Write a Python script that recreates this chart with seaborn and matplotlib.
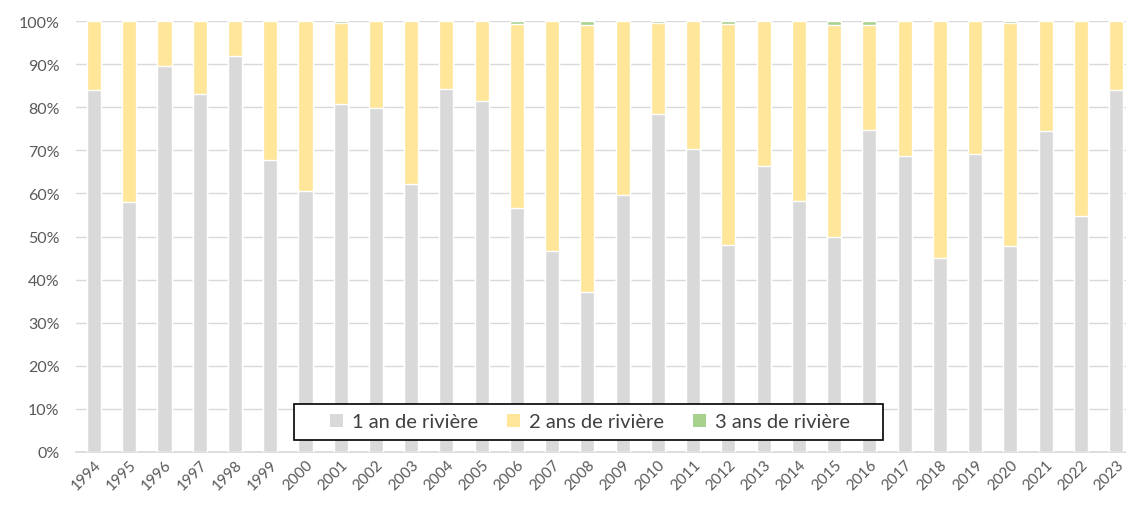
import numpy as np
import pandas as pd
import matplotlib
matplotlib.use("Agg")
import matplotlib.pyplot as plt
import seaborn as sns
from matplotlib.patches import Patch, Rectangle
from matplotlib.ticker import PercentFormatter

years = [str(y) for y in range(1994, 2024)]

# share of fish by years spent in river (%)
one_year = [83.9, 58.0, 89.5, 83.0, 91.9, 67.8, 60.6, 80.8, 79.8, 62.2,
            84.3, 81.4, 56.7, 46.7, 37.2, 59.7, 78.5, 70.2, 48.1, 66.3,
            58.3, 50.0, 74.8, 68.6, 45.1, 69.1, 47.7, 74.4, 54.7, 84.1]
three_years = [0, 0, 0, 0, 0, 0, 0, 0.5, 0, 0,
               0, 0, 0.6, 0, 0.9, 0, 0.5, 0, 0.6, 0,
               0, 1.0, 0.9, 0, 0, 0, 0.5, 0, 0, 0]
two_years = [round(100 - a - c, 1) for a, c in zip(one_year, three_years)]

labels = ["1 an de rivière", "2 ans de rivière", "3 ans de rivière"]
colors = ["#D9D9D9", "#FFE699", "#A9D18E"]

df = pd.DataFrame({"year": years, "one": one_year, "two": two_years, "three": three_years})
df["cum2"] = df["one"] + df["two"]
df["cum3"] = df["cum2"] + df["three"]

sns.set_theme(style="white")
plt.rcParams["font.family"] = ["Lato", "DejaVu Sans"]

W, H = 1126, 506
fig = plt.figure(figsize=(W / 100, H / 100), dpi=100)
ax = fig.add_axes([76 / W, 53 / H, 1050 / W, 431 / H])

# stacked by overlaying cumulative heights
sns.barplot(data=df, x="year", y="cum3", color=colors[2], width=0.4, saturation=1, ax=ax, zorder=2)
sns.barplot(data=df, x="year", y="cum2", color=colors[1], width=0.4, saturation=1, ax=ax, zorder=3)
sns.barplot(data=df, x="year", y="one", color=colors[0], width=0.4, saturation=1, ax=ax, zorder=4)

ax.set_ylim(0, 100)
ax.set_xlim(-0.51, 29.28)
ax.set_yticks(np.arange(0, 101, 10))
ax.yaxis.set_major_formatter(PercentFormatter(decimals=0))
ax.grid(axis="y", color="#D9D9D9", linewidth=1, zorder=0)
ax.set_axisbelow(True)
for s in ["top", "right", "left"]:
    ax.spines[s].set_visible(False)
ax.spines["bottom"].set_color("#D9D9D9")
ax.set_xlabel("")
ax.set_ylabel("")
ax.tick_params(axis="y", labelsize=11.5, labelcolor="#595959", length=0, pad=12)
ax.tick_params(axis="x", labelsize=11, labelcolor="#595959", length=0, pad=4)
plt.setp(ax.get_xticklabels(), rotation=45, ha="right", rotation_mode="anchor")

# legend box drawn separately so its padding matches the original
box = Rectangle((294 / W, (H - 441) / H), 589 / W, 36 / H, transform=fig.transFigure,
                facecolor="white", edgecolor="black", linewidth=1.2, zorder=5)
fig.patches.append(box)

handles = [Patch(facecolor=c, edgecolor="none") for c in colors]
leg = fig.legend(handles, labels, loc="center", bbox_to_anchor=(590 / W, (H - 423) / H),
                 ncol=3, frameon=False, fontsize=14.5, handlelength=0.65,
                 handleheight=0.65, columnspacing=1.45, handletextpad=0.45,
                 borderpad=0, borderaxespad=0, labelcolor="#404040")
leg.set_zorder(6)

fig.savefig("out.png", dpi=100, facecolor="white")
